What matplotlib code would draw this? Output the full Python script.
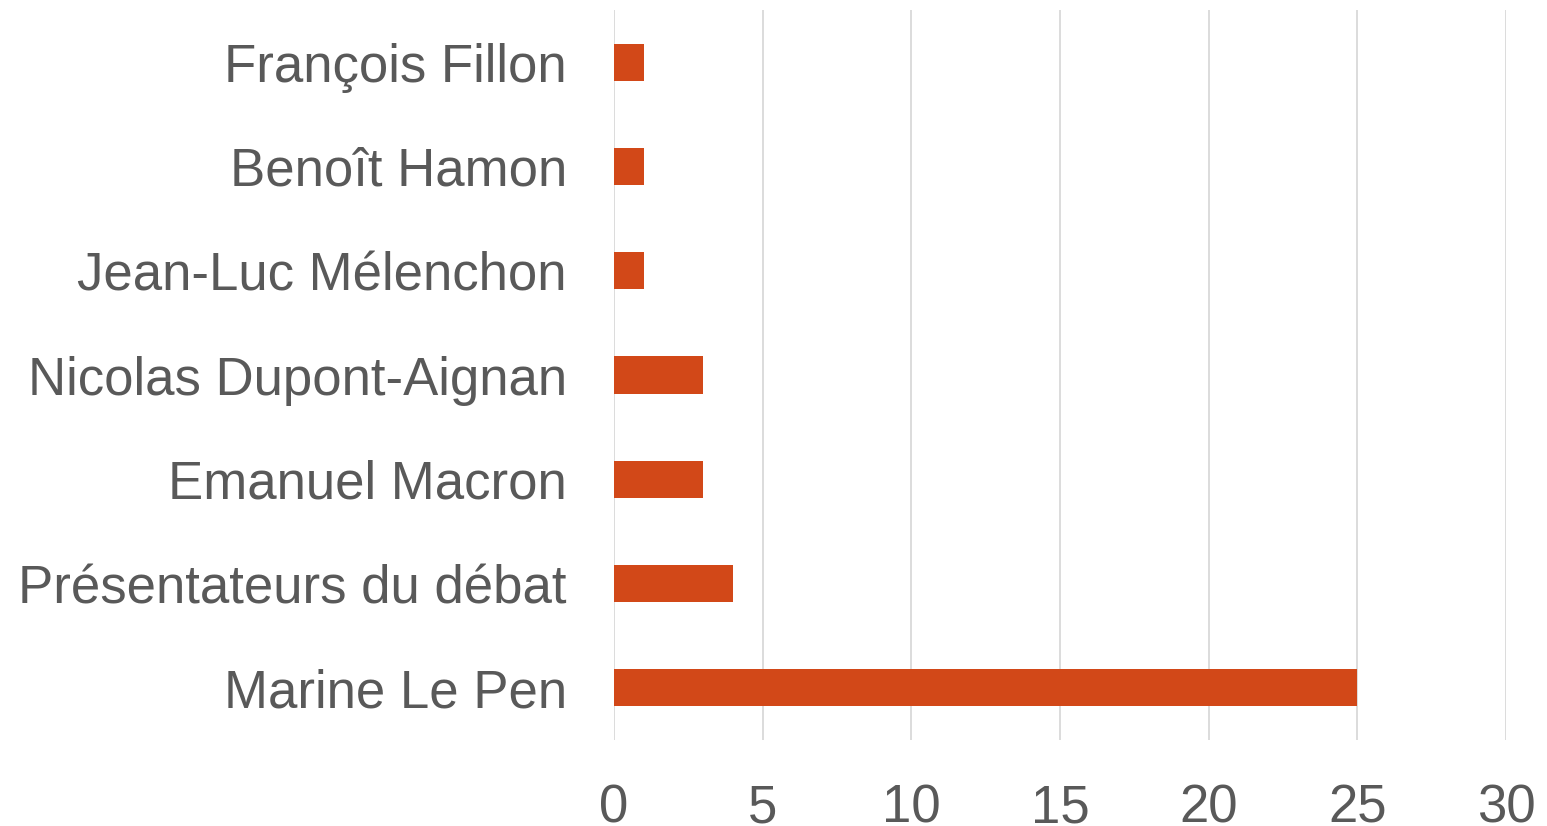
import matplotlib.pyplot as plt

# données : nombre d'occurrences par personne
noms = ["Marine Le Pen", "Présentateurs du débat", "Emanuel Macron",
        "Nicolas Dupont-Aignan", "Jean-Luc Mélenchon", "Benoît Hamon",
        "François Fillon"]
valeurs = [25, 4, 3, 3, 1, 1, 1]
graduations = [0, 5, 10, 15, 20, 25, 30]

plt.rcParams['font.family'] = ['Liberation Sans', 'DejaVu Sans']

fig = plt.figure(figsize=(15.47, 8.26), dpi=100)
ax = fig.add_axes([614 / 1547, 1 - 740 / 826, 892 / 1547, 730 / 826])

pos = range(len(noms))
ax.barh(pos, valeurs, height=0.355, color="#D24818", zorder=3)

ax.set_xlim(0, 30)
ax.set_ylim(-0.5, len(noms) - 0.5)
ax.set_xticks(graduations)
ax.set_yticks(list(pos))
ax.set_yticklabels(noms)

ax.grid(axis='x', color="#d9d9d9", linewidth=1.3, zorder=0)
for s in ax.spines.values():
    s.set_visible(False)
ax.tick_params(axis='both', length=0, labelsize=38, colors="#595959")
ax.tick_params(axis='y', pad=34)
ax.tick_params(axis='x', pad=31)

fig.savefig("out.png", dpi=100)
